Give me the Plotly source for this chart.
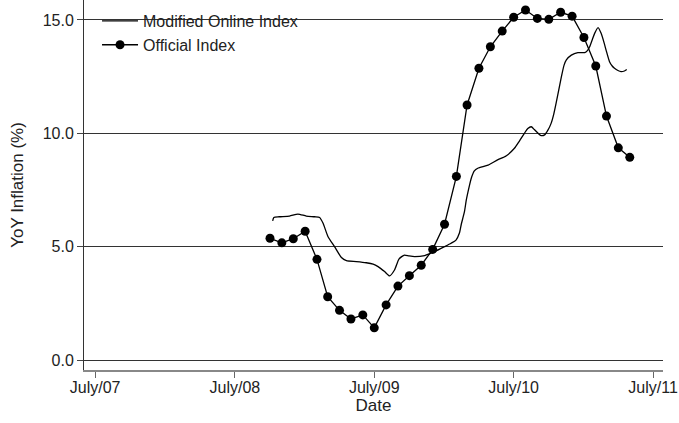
import pandas as pd
import plotly.graph_objects as go

# Official Index (monthly, first of month)
official_dates = pd.date_range("2008-10-01", periods=32, freq="MS")
official_values = [5.37, 5.17, 5.35, 5.68, 4.44, 2.79, 2.19, 1.81, 1.99, 1.42,
                   2.43, 3.26, 3.72, 4.18, 4.88, 5.99, 8.10, 11.25, 12.87, 13.82,
                   14.51, 15.12, 15.44, 15.07, 15.03, 15.34, 15.17, 14.23, 12.97,
                   10.76, 9.36, 8.94]

# Modified Online Index
online_dates = ["2008-10-08", "2008-10-11", "2008-10-25", "2008-11-21", "2008-12-13",
                "2009-01-04", "2009-01-26", "2009-02-08", "2009-02-17", "2009-03-02",
                "2009-03-19", "2009-04-06", "2009-04-19", "2009-05-15", "2009-06-10",
                "2009-06-28", "2009-07-11", "2009-07-28", "2009-08-10", "2009-08-23",
                "2009-09-04", "2009-09-18", "2009-09-30", "2009-10-15", "2009-11-10",
                "2009-12-06", "2010-01-01", "2010-01-18", "2010-01-31", "2010-02-09",
                "2010-02-14", "2010-02-22", "2010-02-27", "2010-03-07", "2010-03-12",
                "2010-03-20", "2010-03-29", "2010-04-25", "2010-05-21", "2010-06-11",
                "2010-07-03", "2010-07-16", "2010-07-29", "2010-08-07", "2010-08-16",
                "2010-08-24", "2010-09-03", "2010-09-11", "2010-09-20", "2010-09-29",
                "2010-10-07", "2010-10-14", "2010-10-20", "2010-11-03", "2010-11-10",
                "2010-11-16", "2010-11-29", "2010-12-16", "2011-01-03", "2011-01-10",
                "2011-01-16", "2011-01-23", "2011-01-29", "2011-02-07", "2011-02-15",
                "2011-02-23", "2011-02-28", "2011-03-09", "2011-03-16", "2011-03-22",
                "2011-03-31", "2011-04-08", "2011-04-17", "2011-04-23"]
online_values = [6.14, 6.29, 6.32, 6.35, 6.44,
                 6.35, 6.32, 6.29, 6.03, 5.44,
                 5.00, 4.52, 4.38, 4.34, 4.29,
                 4.23, 4.12, 3.90, 3.71, 3.97,
                 4.46, 4.63, 4.59, 4.56, 4.61,
                 4.78, 5.00, 5.15, 5.29, 5.60,
                 6.00, 6.53, 7.06, 7.68, 8.02,
                 8.34, 8.46, 8.60, 8.84, 9.00,
                 9.34, 9.66, 10.00, 10.21, 10.29,
                 10.17, 10.00, 9.90, 9.93, 10.15,
                 10.44, 10.85, 11.32, 12.50, 13.01,
                 13.24, 13.45, 13.56, 13.56, 13.65,
                 13.82, 14.14, 14.41, 14.66, 14.41,
                 13.98, 13.67, 13.16, 12.97, 12.87,
                 12.77, 12.72, 12.75, 12.82]

x_tick_vals = ["2007-07-01", "2008-07-01", "2009-07-01", "2010-07-01", "2011-07-01"]
x_tick_text = ["July/07", "July/08", "July/09", "July/10", "July/11"]
y_tick_vals = [0, 5, 10, 15]
y_tick_text = ["0.0", "5.0", "10.0", "15.0"]

font = "Liberation Sans, Arial, sans-serif"

fig = go.Figure()
fig.add_trace(go.Scatter(
    x=online_dates, y=online_values, mode="lines", name="Modified Online Index",
    line=dict(color="black", width=1.3, shape="spline", smoothing=0.6),
))
fig.add_trace(go.Scatter(
    x=official_dates, y=official_values, mode="lines+markers", name="Official Index",
    line=dict(color="black", width=1.3),
    marker=dict(color="black", size=9, symbol="circle"),
))

fig.update_layout(
    width=679, height=423,
    margin=dict(l=84, r=16, t=0, b=53, autoexpand=False),
    plot_bgcolor="white", paper_bgcolor="white",
    font=dict(family=font, size=16, color="#222"),
    showlegend=True,
    legend=dict(x=0.0225, y=0.989, xanchor="left", yanchor="top",
                bgcolor="rgba(0,0,0,0)", font=dict(size=16, color="#222"),
                tracegroupgap=0, itemwidth=36),
    xaxis=dict(
        range=["2007-06-02", "2011-07-27"],
        tickvals=x_tick_vals, ticktext=x_tick_text,
        ticks="outside", ticklen=6, tickcolor="#666", tickwidth=1,
        showgrid=False, showline=True, linecolor="#888", linewidth=2,
        zeroline=False, automargin=True, ticklabelstandoff=-4,
        title=dict(text="Date", font=dict(size=17), standoff=4),
        tickfont=dict(size=16),
    ),
    yaxis=dict(
        range=[-0.441, 15.882],
        tickvals=y_tick_vals, ticktext=y_tick_text,
        ticks="outside", ticklen=6, tickcolor="#444", tickwidth=1,
        showgrid=True, gridcolor="#333", gridwidth=1,
        showline=True, linecolor="#333", linewidth=1,
        zeroline=False, automargin=True,
        title=dict(text="YoY Inflation (%)", font=dict(size=17), standoff=14),
        tickfont=dict(size=16),
    ),
)

fig.write_html("out.html", config={"displayModeBar": False},
               post_script="document.body.style.margin='0';")
